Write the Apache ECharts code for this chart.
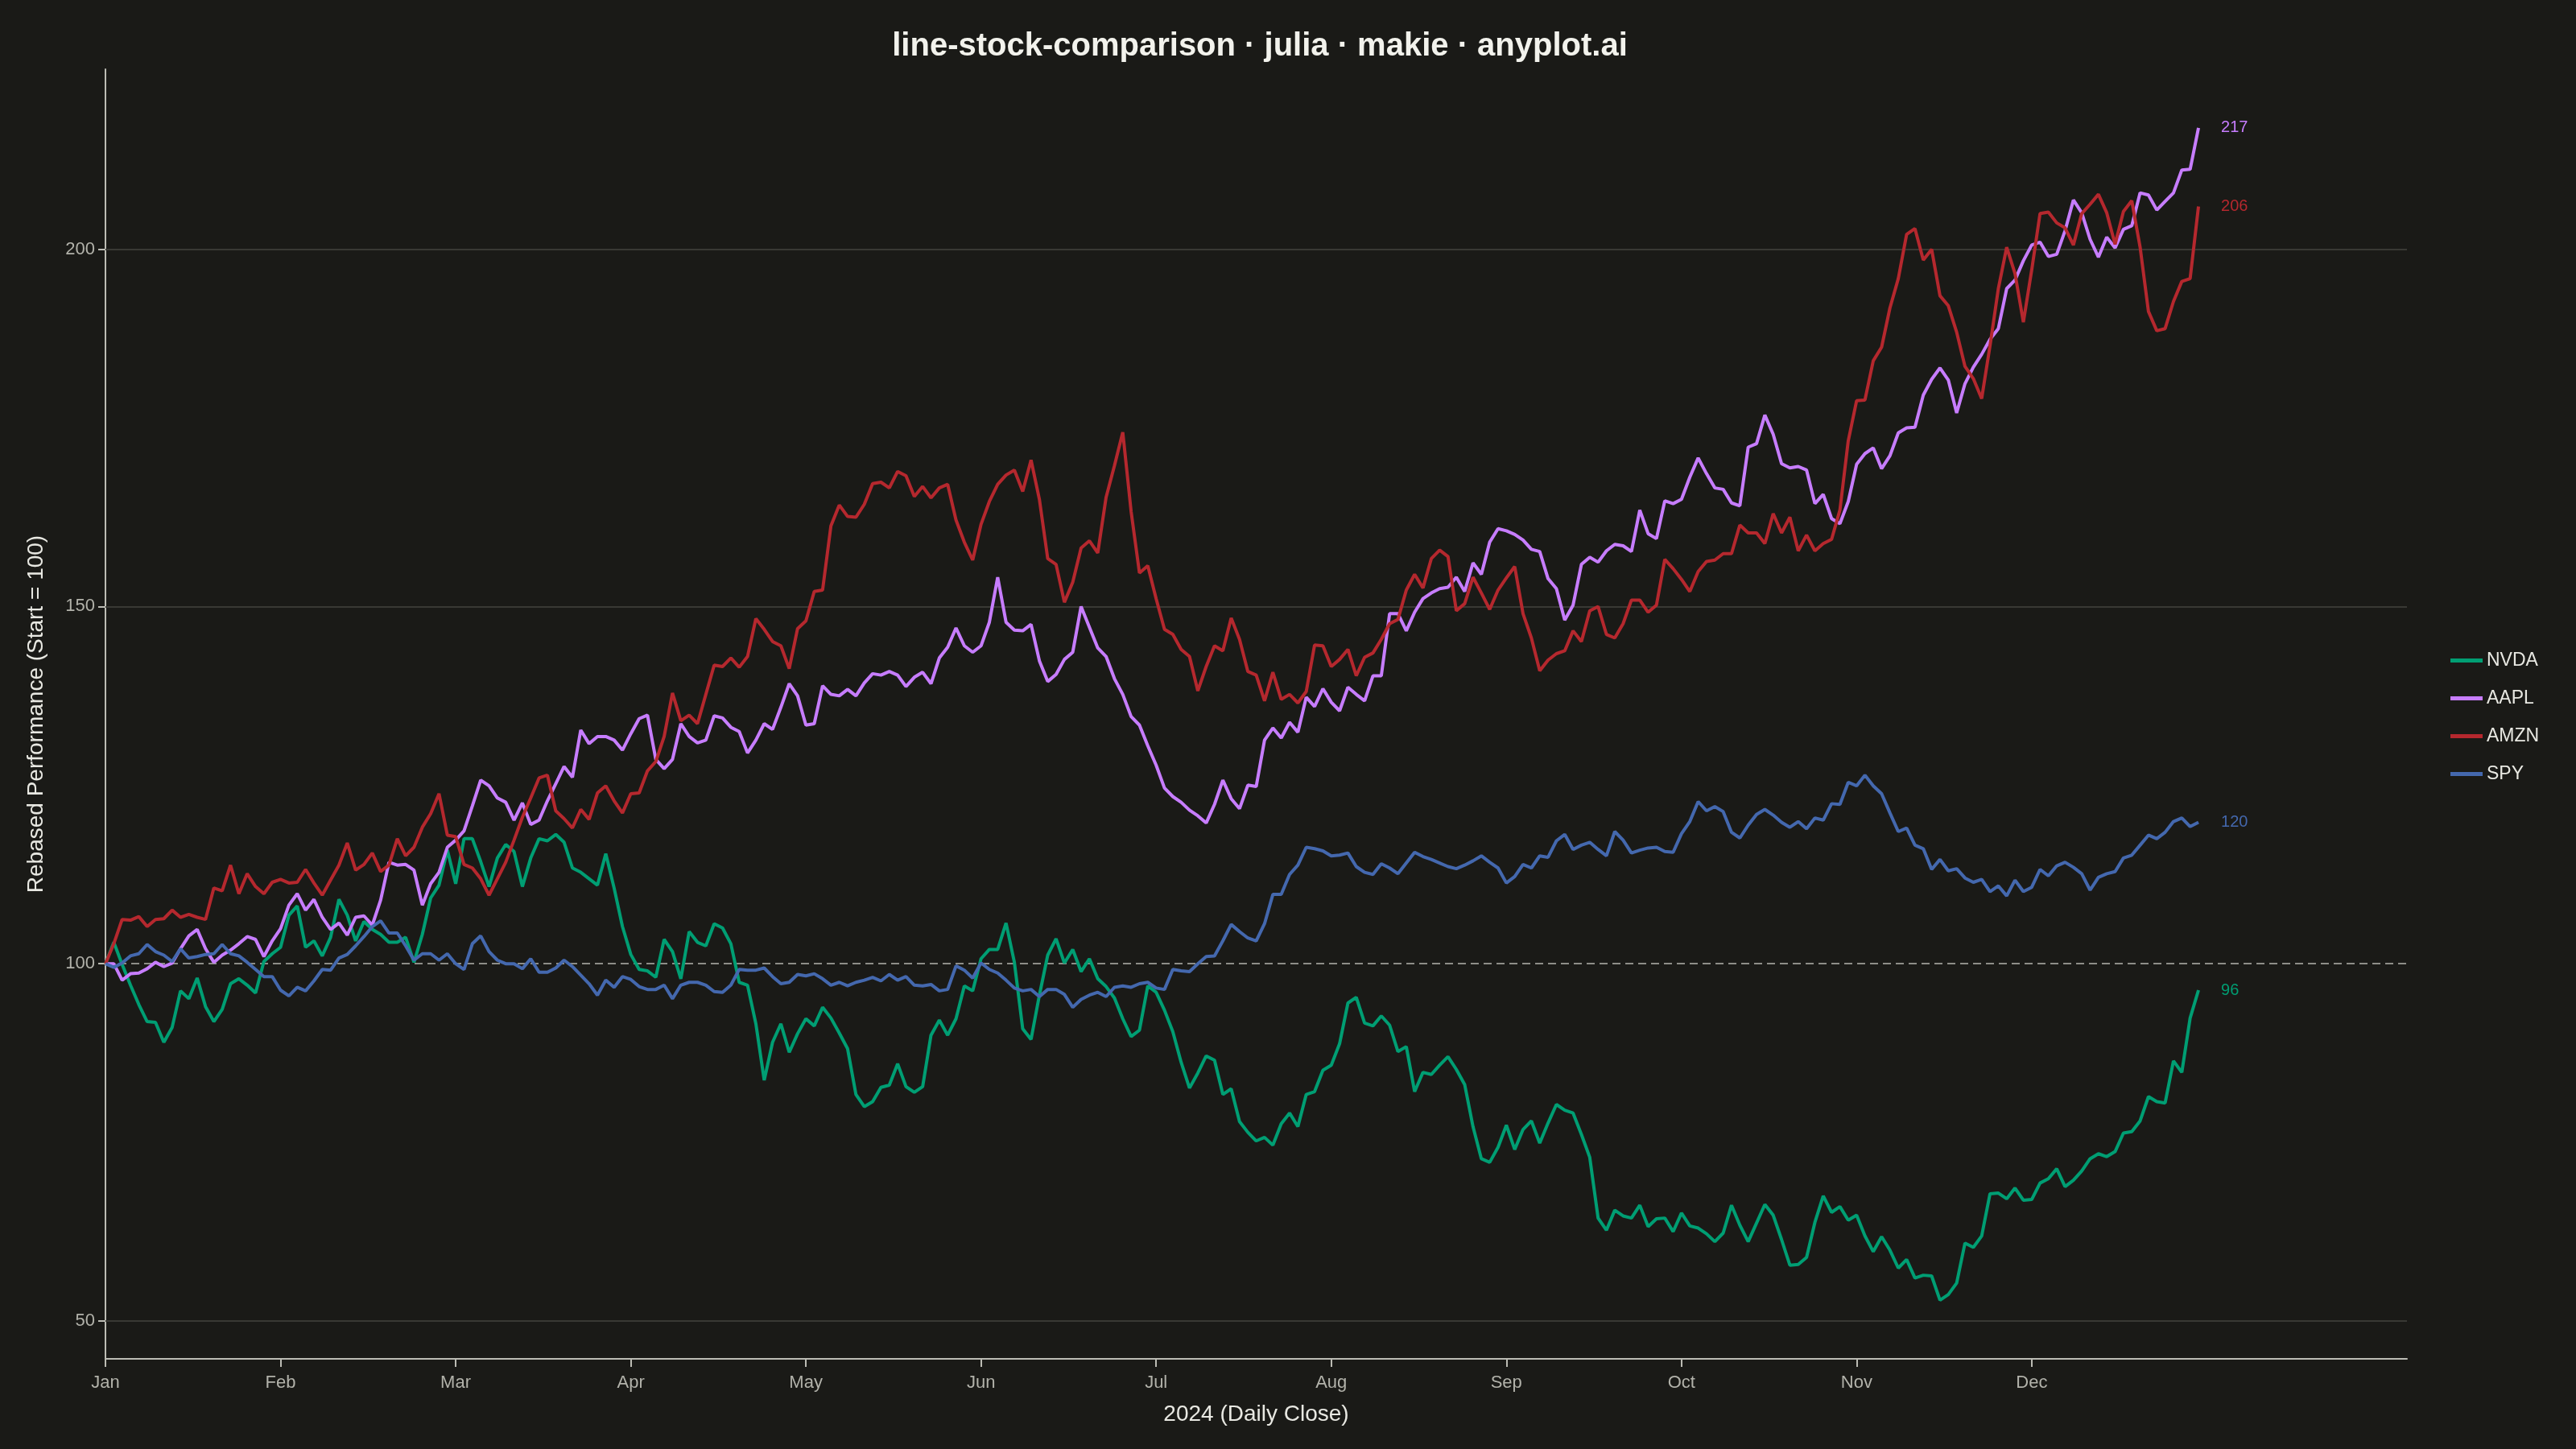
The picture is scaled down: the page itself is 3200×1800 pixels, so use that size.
<!DOCTYPE html>
<html>
<head>
<meta charset="utf-8">
<title>line-stock-comparison</title>
<script src="https://cdn.jsdelivr.net/npm/echarts@6/dist/echarts.min.js"></script>
<style>
  html, body { margin: 0; padding: 0; background: #1a1a17; }
  #chart { width: 3200px; height: 1800px; }
</style>
</head>
<body>
<div id="chart"></div>
<script>
// trading-day index 0..251, one row per "month" of 21 days
const tickers = ['NVDA', 'AAPL', 'AMZN', 'SPY'];
const colors = ['#009E73', '#C77DFF', '#B5282E', '#4468AE'];
const months = ['Jan', 'Feb', 'Mar', 'Apr', 'May', 'Jun', 'Jul', 'Aug', 'Sep', 'Oct', 'Nov', 'Dec'];
const monthTicks = [0, 21, 42, 63, 84, 105, 126, 147, 168, 189, 210, 231];
const yTicks = [50, 100, 150, 200];

const nvda = [
  100.0, 103.0, 99.9, 97.0, 94.3, 91.9, 91.8, 89.0, 91.1, 96.2, 95.1, 98.0, 94.0, 91.9, 93.6, 97.2, 97.9, 97.0, 95.9, 100.3, 101.4,
  102.3, 106.8, 108.1, 102.3, 103.2, 101.1, 103.7, 109.0, 106.8, 103.2, 105.9, 104.8, 104.1, 103.0, 103.0, 103.7, 100.2, 104.1, 109.2, 111.0,
  115.9, 111.2, 117.5, 117.5, 114.3, 110.8, 114.8, 116.7, 115.7, 110.8, 114.8, 117.5, 117.2, 118.1, 117.0, 113.4, 112.8, 111.9, 111.0, 115.4,
  110.6, 105.2, 101.3, 99.2, 99.0, 98.1, 103.4, 101.7, 97.9, 104.5, 103.0, 102.5, 105.6, 105.0, 102.8, 97.4, 97.0, 91.6, 83.7, 89.0,
  91.6, 87.6, 90.2, 92.3, 91.3, 93.9, 92.4, 90.3, 88.1, 81.7, 80.0, 80.7, 82.7, 83.0, 86.0, 82.8, 82.0, 82.8, 90.0, 92.1,
  90.0, 92.3, 96.9, 96.2, 100.7, 102.0, 102.0, 105.7, 100.2, 90.9, 89.4, 95.6, 101.2, 103.5, 100.1, 102.0, 98.9, 100.7, 97.9, 96.8,
  95.2, 92.3, 89.8, 90.7, 96.9, 96.0, 93.5, 90.5, 86.2, 82.6, 84.7, 87.1, 86.5, 81.7, 82.5, 77.9, 76.4, 75.2, 75.7, 74.6,
  77.6, 79.1, 77.2, 81.7, 82.1, 85.1, 85.8, 88.8, 94.5, 95.3, 91.7, 91.3, 92.7, 91.4, 87.7, 88.4, 82.1, 84.8, 84.5, 85.8,
  87.0, 85.2, 83.1, 77.2, 72.7, 72.2, 74.3, 77.4, 74.0, 76.8, 78.0, 74.9, 77.7, 80.3, 79.5, 79.1, 76.1, 72.9, 64.4, 62.7,
  65.5, 64.7, 64.4, 66.2, 63.2, 64.3, 64.4, 62.5, 65.1, 63.3, 63.0, 62.2, 61.1, 62.3, 66.2, 63.4, 61.1, 63.7, 66.3, 64.8,
  61.4, 57.8, 57.9, 58.9, 63.8, 67.5, 65.2, 66.0, 64.1, 64.8, 61.9, 59.7, 61.8, 59.9, 57.4, 58.6, 56.0, 56.4, 56.3, 52.9,
  53.7, 55.3, 60.9, 60.3, 61.9, 67.8, 67.9, 67.1, 68.6, 66.9, 67.0, 69.3, 69.9, 71.3, 68.8, 69.7, 71.0, 72.7, 73.4, 73.0,
  73.7, 76.3, 76.5, 78.0, 81.4, 80.7, 80.5, 86.4, 84.8, 92.4, 96.3
];

const aapl = [
  100.0, 100.0, 97.7, 98.6, 98.7, 99.3, 100.2, 99.6, 100.1, 102.1, 103.9, 104.8, 102.1, 100.2, 101.2, 101.9, 102.8, 103.8, 103.4, 101.0, 103.2,
  104.9, 108.2, 109.8, 107.5, 109.0, 106.5, 104.8, 105.7, 104.0, 106.5, 106.7, 105.4, 108.9, 114.2, 113.8, 113.9, 113.1, 108.2, 111.2, 112.8,
  116.3, 117.3, 118.6, 122.1, 125.7, 124.9, 123.2, 122.6, 120.1, 122.5, 119.5, 120.1, 122.8, 125.2, 127.6, 126.1, 132.7, 130.8, 131.8, 131.8,
  131.3, 129.9, 132.2, 134.3, 134.8, 128.6, 127.3, 128.6, 133.6, 131.8, 130.9, 131.3, 134.7, 134.4, 133.1, 132.5, 129.5, 131.3, 133.6, 132.8,
  135.9, 139.2, 137.5, 133.4, 133.6, 138.9, 137.7, 137.5, 138.4, 137.5, 139.3, 140.6, 140.4, 140.9, 140.4, 138.8, 140.1, 140.8, 139.2, 142.8,
  144.3, 147.0, 144.5, 143.6, 144.5, 147.8, 154.1, 147.8, 146.7, 146.6, 147.5, 142.4, 139.5, 140.5, 142.6, 143.6, 150.0, 147.1, 144.2, 143.0,
  139.9, 137.7, 134.6, 133.4, 130.5, 127.8, 124.6, 123.4, 122.6, 121.5, 120.7, 119.7, 122.3, 125.7, 123.1, 121.7, 125.0, 124.8, 131.3, 133.0,
  131.6, 133.8, 132.4, 137.3, 136.0, 138.5, 136.6, 135.4, 138.7, 137.7, 136.8, 140.3, 140.3, 149.0, 149.0, 146.6, 149.2, 151.1, 151.9, 152.5,
  152.7, 154.1, 152.1, 156.1, 154.5, 159.0, 160.9, 160.6, 160.1, 159.3, 158.0, 157.7, 153.9, 152.5, 148.1, 150.2, 155.9, 156.9, 156.2, 157.8,
  158.7, 158.5, 157.7, 163.5, 160.2, 159.5, 164.8, 164.4, 165.0, 168.1, 170.8, 168.6, 166.6, 166.4, 164.5, 164.1, 172.3, 172.8, 176.8, 174.1,
  170.0, 169.4, 169.6, 169.1, 164.4, 165.7, 162.3, 161.6, 164.7, 169.9, 171.4, 172.2, 169.3, 171.1, 174.3, 175.0, 175.1, 179.6, 181.8, 183.4,
  181.7, 177.1, 181.2, 183.5, 185.3, 187.4, 188.9, 194.5, 195.7, 198.4, 200.6, 201.0, 199.0, 199.3, 202.6, 206.9, 205.1, 201.4, 198.9, 201.7,
  200.2, 202.8, 203.3, 207.9, 207.6, 205.5, 206.7, 207.9, 211.1, 211.2, 217.0
];

const amzn = [
  100.0, 102.8, 106.2, 106.1, 106.6, 105.2, 106.2, 106.3, 107.5, 106.5, 106.9, 106.5, 106.2, 110.6, 110.2, 113.8, 109.8, 112.6, 110.8, 109.8, 111.4,
  111.8, 111.3, 111.4, 113.2, 111.3, 109.6, 111.7, 113.8, 116.9, 113.1, 113.9, 115.5, 112.9, 113.8, 117.5, 115.1, 116.3, 119.1, 121.0, 123.8,
  118.0, 117.8, 113.9, 113.4, 111.9, 109.6, 111.9, 114.2, 117.3, 120.5, 123.2, 126.0, 126.4, 121.4, 120.3, 119.0, 121.6, 120.2, 123.9, 124.9,
  122.8, 121.1, 123.8, 123.9, 127.0, 128.3, 131.8, 137.9, 134.0, 134.8, 133.6, 137.7, 141.8, 141.6, 142.8, 141.5, 143.0, 148.3, 146.8, 145.1,
  144.5, 141.3, 146.9, 148.0, 152.1, 152.3, 161.3, 164.2, 162.6, 162.5, 164.3, 167.2, 167.4, 166.6, 168.9, 168.3, 165.4, 166.8, 165.2, 166.6,
  167.1, 162.1, 159.0, 156.5, 161.5, 164.7, 167.1, 168.4, 169.1, 166.1, 170.5, 165.0, 156.7, 155.9, 150.6, 153.4, 158.2, 159.2, 157.5, 165.3,
  169.7, 174.4, 163.3, 154.7, 155.7, 151.1, 146.8, 146.1, 144.0, 143.0, 138.2, 141.6, 144.5, 143.8, 148.4, 145.4, 140.9, 140.4, 136.8, 140.8,
  137.0, 137.7, 136.5, 138.1, 144.6, 144.5, 141.6, 142.6, 144.0, 140.3, 142.9, 143.5, 145.4, 147.6, 148.2, 152.3, 154.5, 152.6, 156.7, 157.9,
  157.0, 149.4, 150.4, 154.1, 151.9, 149.6, 152.3, 154.0, 155.6, 149.0, 145.6, 141.0, 142.5, 143.4, 143.8, 146.6, 145.1, 149.4, 150.0, 146.1,
  145.6, 147.6, 150.9, 150.9, 149.2, 150.2, 156.6, 155.3, 153.8, 152.1, 154.9, 156.3, 156.5, 157.4, 157.4, 161.4, 160.3, 160.3, 158.8, 163.0,
  160.3, 162.5, 157.8, 160.0, 157.8, 158.8, 159.4, 163.5, 173.2, 178.8, 178.9, 184.4, 186.3, 191.8, 195.9, 202.1, 202.9, 198.5, 200.0, 193.5,
  192.1, 188.4, 183.6, 181.9, 179.1, 186.5, 194.5, 200.3, 196.6, 189.8, 197.1, 205.0, 205.2, 203.7, 203.0, 200.6, 205.0, 206.3, 207.7, 205.1,
  200.7, 205.3, 206.8, 200.3, 191.3, 188.6, 188.9, 192.7, 195.5, 195.9, 206.0
];

const spy = [
  100.0, 99.5, 100.1, 101.1, 101.4, 102.7, 101.7, 101.2, 100.3, 102.1, 100.8, 101.0, 101.3, 101.4, 102.7, 101.4, 101.1, 100.2, 99.2, 98.2, 98.2,
  96.3, 95.5, 96.7, 96.2, 97.6, 99.2, 99.1, 100.8, 101.3, 102.5, 103.8, 105.2, 106.0, 104.3, 104.3, 102.5, 100.5, 101.4, 101.4, 100.5,
  101.4, 100.0, 99.2, 102.8, 103.9, 101.7, 100.5, 100.0, 100.0, 99.3, 100.7, 98.8, 98.8, 99.4, 100.5, 99.6, 98.4, 97.2, 95.6, 97.7,
  96.7, 98.2, 97.8, 96.8, 96.4, 96.4, 97.0, 95.1, 97.0, 97.4, 97.4, 97.0, 96.1, 96.0, 97.0, 99.2, 99.1, 99.1, 99.4, 98.2,
  97.2, 97.4, 98.5, 98.3, 98.6, 97.9, 97.0, 97.4, 96.9, 97.4, 97.7, 98.1, 97.6, 98.5, 97.7, 98.2, 97.0, 96.9, 97.1, 96.2,
  96.4, 99.7, 99.1, 98.0, 100.1, 99.2, 98.7, 97.7, 96.6, 96.2, 96.4, 95.4, 96.4, 96.4, 95.7, 93.9, 95.0, 95.6, 96.0, 95.4,
  96.7, 96.9, 96.7, 97.2, 97.4, 96.6, 96.4, 99.2, 99.0, 98.9, 100.0, 101.0, 101.1, 103.2, 105.5, 104.5, 103.6, 103.2, 105.6, 109.7,
  109.7, 112.5, 113.8, 116.3, 116.1, 115.8, 115.1, 115.2, 115.5, 113.6, 112.8, 112.5, 114.0, 113.4, 112.6, 114.1, 115.6, 115.0, 114.6, 114.1,
  113.6, 113.3, 113.8, 114.4, 115.1, 114.2, 113.4, 111.3, 112.2, 113.9, 113.4, 115.1, 114.9, 117.2, 118.1, 116.0, 116.6, 117.0, 116.0, 115.1,
  118.5, 117.3, 115.5, 115.9, 116.2, 116.3, 115.7, 115.6, 118.2, 119.9, 122.7, 121.4, 122.0, 121.3, 118.4, 117.6, 119.4, 120.9, 121.6, 120.8,
  119.8, 119.1, 119.9, 118.9, 120.4, 120.1, 122.4, 122.3, 125.4, 124.9, 126.4, 124.9, 123.8, 121.1, 118.5, 119.0, 116.6, 116.1, 113.2, 114.6,
  113.0, 113.3, 112.0, 111.4, 111.8, 110.1, 110.9, 109.5, 111.7, 110.1, 110.7, 113.2, 112.3, 113.7, 114.2, 113.5, 112.6, 110.3, 112.1, 112.6,
  112.9, 114.8, 115.2, 116.6, 118.0, 117.5, 118.4, 119.9, 120.4, 119.2, 119.8
];

const allSeries = [nvda, aapl, amzn, spy];

// makie-style auto limits: 5% padding of the data range
const lo = Math.min(...allSeries.map(s => Math.min(...s)));
const hi = Math.max(...allSeries.map(s => Math.max(...s)));
const pad = (hi - lo) * 0.05;

const chart = echarts.init(document.getElementById('chart'), null, { renderer: 'canvas' });

const font = 'Liberation Sans, Arial, Helvetica, sans-serif';
const gridColor = '#393934';
const spineColor = '#bcbcb4';

const series = allSeries.map((values, k) => {
  const s = {
    name: tickers[k],
    type: 'line',
    data: values.map((v, i) => [i, v]),
    showSymbol: false,
    symbol: 'none',
    lineStyle: { width: 4, color: colors[k] },
    itemStyle: { color: colors[k] },
    emphasis: { disabled: true },
    endLabel: {
      show: true,
      formatter: p => String(Math.round(p.value[1])),
      color: colors[k],
      fontSize: 20,
      fontFamily: font,
      distance: 28
    }
  };
  if (k === 0) {
    s.markLine = {
      silent: true,
      symbol: 'none',
      z: 1,
      animation: false,
      label: { show: false },
      data: [
        { yAxis: 50, lineStyle: { color: gridColor, width: 2, type: 'solid' } },
        { yAxis: 150, lineStyle: { color: gridColor, width: 2, type: 'solid' } },
        { yAxis: 200, lineStyle: { color: gridColor, width: 2, type: 'solid' } },
        { yAxis: 100, lineStyle: { color: '#8e8e88', width: 2, type: [10, 6] } }
      ]
    };
  }
  return s;
});

const option = {
  backgroundColor: '#1a1a17',
  animation: false,
  textStyle: { fontFamily: font },
  title: {
    text: 'line-stock-comparison · julia · makie · anyplot.ai',
    left: 1560,
    top: 33,
    textAlign: 'center',
    textStyle: { color: '#f2f2ec', fontSize: 40, fontWeight: 'bold', fontFamily: font }
  },
  legend: {
    orient: 'vertical',
    left: 3039,
    top: 804,
    itemWidth: 40,
    itemHeight: 5,
    itemGap: 24,
    icon: 'rect',
    data: tickers,
    textStyle: { color: '#e8e8e2', fontSize: 23, fontFamily: font }
  },
  grid: { left: 131, right: 210, top: 86, bottom: 112, containLabel: false },
  xAxis: {
    type: 'value',
    min: 0,
    max: 276,
    name: '2024 (Daily Close)',
    nameLocation: 'middle',
    nameGap: 55,
    nameTextStyle: { color: '#e8e8e2', fontSize: 28, fontFamily: font },
    axisLine: { show: true, onZero: false, lineStyle: { color: spineColor, width: 2 } },
    axisTick: { show: true, length: 10, customValues: monthTicks, lineStyle: { color: spineColor, width: 2 } },
    axisLabel: {
      customValues: monthTicks,
      formatter: v => months[monthTicks.indexOf(v)] || '',
      color: '#b2b2aa',
      fontSize: 22,
      margin: 19,
      fontFamily: font
    },
    splitLine: { show: false }
  },
  yAxis: {
    type: 'value',
    min: lo - pad,
    max: hi + pad,
    name: 'Rebased Performance (Start = 100)',
    nameLocation: 'middle',
    nameGap: 72,
    nameRotate: 90,
    nameTextStyle: { color: '#e8e8e2', fontSize: 28, fontFamily: font },
    axisLine: { show: true, onZero: false, lineStyle: { color: spineColor, width: 2 } },
    axisTick: { show: true, length: 9, customValues: yTicks, lineStyle: { color: spineColor, width: 2 } },
    axisLabel: {
      customValues: yTicks,
      color: '#b2b2aa',
      fontSize: 22,
      margin: 13,
      fontFamily: font
    },
    splitLine: { show: false }
  },
  series: series
};

chart.setOption(option);
</script>
</body>
</html>
